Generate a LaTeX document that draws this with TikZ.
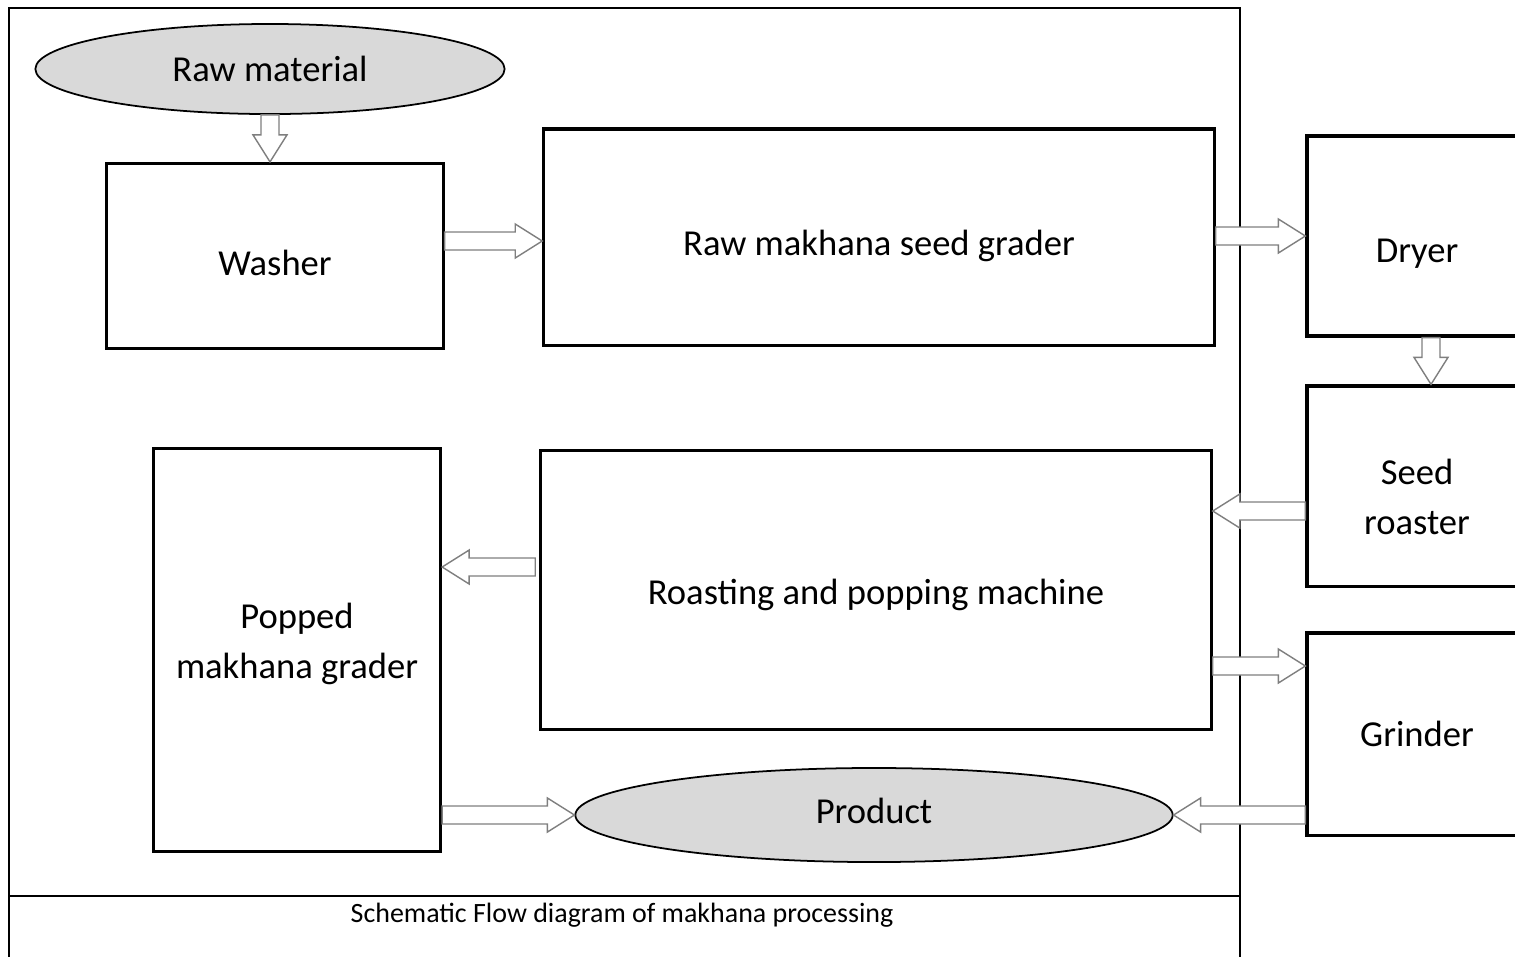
\documentclass[tikz,border=0pt]{standalone}
\usepackage{fontspec}
\setmainfont{Carlito}
\usetikzlibrary{calc,shapes.geometric}
\definecolor{ovalgrey}{HTML}{D9D9D9}
\definecolor{arrowgrey}{HTML}{7F7F7F}

% hollow block arrow from #1 (tail) to #2 (tip)
\newcommand{\flowarrow}[2]{%
  \path (#1) coordinate (fa-t) (#2) coordinate (fa-h);
  \path ($(fa-h)!0.27cm!(fa-t)$) coordinate (fa-n);
  \draw[flow] ($(fa-t)!0.09cm!90:(fa-h)$) -- ($(fa-n)!0.09cm!90:(fa-h)$)
    -- ($(fa-n)!0.17cm!90:(fa-h)$) -- (fa-h) -- ($(fa-n)!0.17cm!-90:(fa-h)$)
    -- ($(fa-n)!0.09cm!-90:(fa-h)$) -- ($(fa-t)!0.09cm!-90:(fa-h)$) -- cycle;
}
% move a line of text down, keeping its box
\newcommand{\lowertext}[2]{\raisebox{-#1}[\height][\depth]{#2}}

\begin{document}
\begin{tikzpicture}[x=0.01cm,y=-0.01cm,
  box/.style={draw, line width=0.9pt, align=center, inner sep=0pt,
    font=\fontsize{10.4}{14.2}\selectfont},
  oval/.style={ellipse, draw, line width=0.5pt, fill=ovalgrey, inner sep=0pt,
    font=\fontsize{10.4}{14.2}\selectfont},
  frame/.style={line width=0.7pt},
  flow/.style={draw=arrowgrey, line width=0.4pt, fill=white}]
\useasboundingbox (0,0) rectangle (1515,956);
\clip (0,0) rectangle (1515,956);

% frame and caption
\draw[frame] (9,970) -- (9,8) -- (1240,8) -- (1240,970);
\draw[frame] (9,896) -- (1240,896);
\node[font=\fontsize{7.95}{9}\selectfont] (caption) at (622,915)
  {Schematic Flow diagram of makhana processing};

% first row
\node[oval, minimum width=4.69cm, minimum height=0.9cm] (raw) at (270,69) {Raw material};
\node[box, minimum width=3.36cm, minimum height=1.85cm] (washer) at (275,256) {\lowertext{2pt}{Washer}};
\node[box, minimum width=6.70cm, minimum height=2.16cm] (grader) at (879,237) {\lowertext{2.6pt}{Raw makhana seed grader}};
\node[box, minimum width=2.20cm, minimum height=2.00cm] (dryer) at (1417,236) {\lowertext{5.1pt}{Dryer}};

% right column
\node[box, minimum width=2.20cm, minimum height=2.00cm] (roaster) at (1417,486) {\lowertext{3.1pt}{Seed}\\\lowertext{3.1pt}{roaster}};
\node[box, minimum width=2.20cm, minimum height=2.02cm] (grinder) at (1417,734) {Grinder};

% second row
\node[box, minimum width=6.70cm, minimum height=2.79cm] (roasting) at (876,590) {\lowertext{1.4pt}{Roasting and popping machine}};
\node[box, minimum width=2.87cm, minimum height=4.03cm] (popped) at (297,650) {\lowertext{-1.7pt}{Popped}\\\lowertext{-1.7pt}{makhana grader}};
\node[oval, minimum width=5.97cm, minimum height=0.94cm] (product) at (874,815) {\lowertext{-1.1pt}{Product}};

% arrows
\flowarrow{raw.south}{washer.north -| raw.south}
\flowarrow{washer.east |- 0,241}{grader.west |- 0,241}
\flowarrow{grader.east |- 0,236}{dryer.west |- 0,236}
\flowarrow{dryer.south -| 1431,0}{roaster.north -| 1431,0}
\flowarrow{roaster.west |- 0,511}{roasting.east |- 0,511}
\flowarrow{roasting.east |- 0,666}{grinder.west |- 0,666}
\path (roasting.west |- 0,567) ++(-4,0) coordinate (rp);
\flowarrow{rp}{popped.east |- rp}
\flowarrow{popped.east |- product.west}{product.west}
\flowarrow{grinder.west |- product.east}{product.east}
\end{tikzpicture}
\end{document}
